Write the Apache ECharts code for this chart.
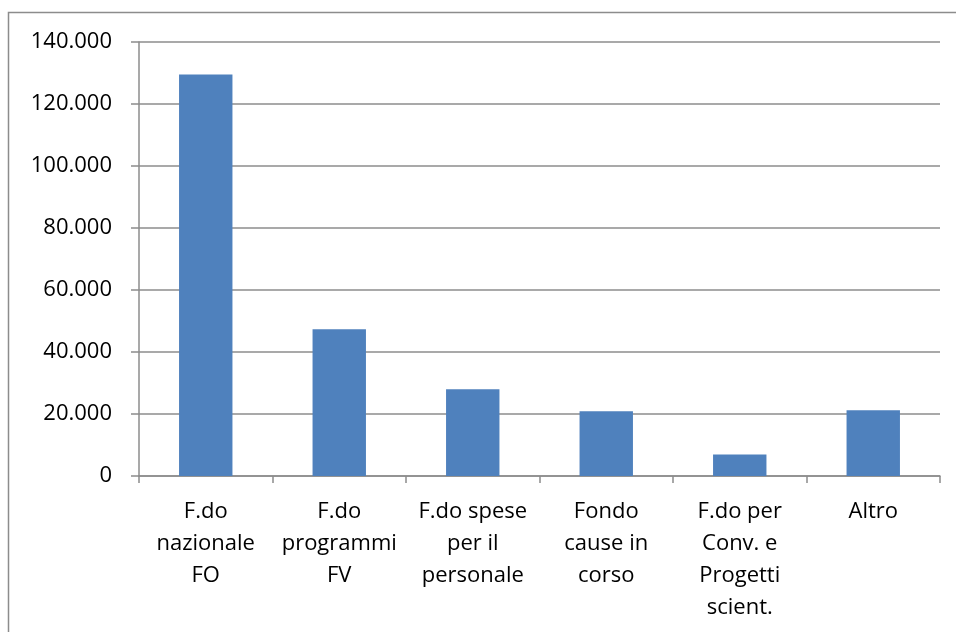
<!DOCTYPE html>
<html>
<head>
<meta charset="utf-8">
<script src="https://cdn.jsdelivr.net/npm/echarts@6/dist/echarts.min.js"></script>
<style>html,body{margin:0;padding:0;background:#fff}#c{width:956px;height:632px}</style>
</head>
<body>
<div id="c"></div>
<script>
const categories = ["F.do\nnazionale\nFO", "F.do\nprogrammi\nFV", "F.do spese\nper il\npersonale", "Fondo\ncause in\ncorso", "F.do per\nConv. e\nProgetti\nscient.", "Altro"];
const values = [129500, 47300, 28000, 20900, 6900, 21200];
const yTicks = { min: 0, max: 140000, interval: 20000 };

const chart = echarts.init(document.getElementById('c'));
const font = "'Open Sans', 'Noto Sans', sans-serif";
const gray = '#8c8c8c';
chart.setOption({
  animation: false,
  backgroundColor: '#fff',
  graphic: [{
    type: 'rect',
    shape: { x: 8.5, y: 12.5, width: 1000, height: 700 },
    style: { fill: 'none', stroke: gray, lineWidth: 1.5 },
    silent: true
  }],
  grid: { left: 139, right: 16, top: 42, bottom: 156, containLabel: false },
  xAxis: {
    type: 'category',
    data: categories,
    axisLine: { lineStyle: { color: gray, width: 1.5 } },
    axisTick: { show: true, length: 7, alignWithLabel: false, lineStyle: { color: gray, width: 1.5 } },
    axisLabel: { interval: 0, margin: 20, fontFamily: font, fontSize: 22, color: '#000', lineHeight: 32, align: 'center', verticalAlign: 'top' }
  },
  yAxis: {
    type: 'value',
    min: yTicks.min, max: yTicks.max, interval: yTicks.interval,
    axisLine: { show: true, lineStyle: { color: gray, width: 1.5 } },
    axisTick: { show: true, length: 8, lineStyle: { color: gray, width: 1.5 } },
    splitLine: { show: true, lineStyle: { color: gray, width: 1.5 } },
    axisLabel: {
      margin: 27, fontFamily: font, fontSize: 22, color: '#000',
      formatter: v => v === 0 ? '0' : String(v).replace(/\B(?=(\d{3})+(?!\d))/g, '.')
    }
  },
  series: [{
    type: 'bar',
    data: values,
    barCategoryGap: '60%',
    itemStyle: { color: '#4F81BD' }
  }]
});
</script>
</body>
</html>
